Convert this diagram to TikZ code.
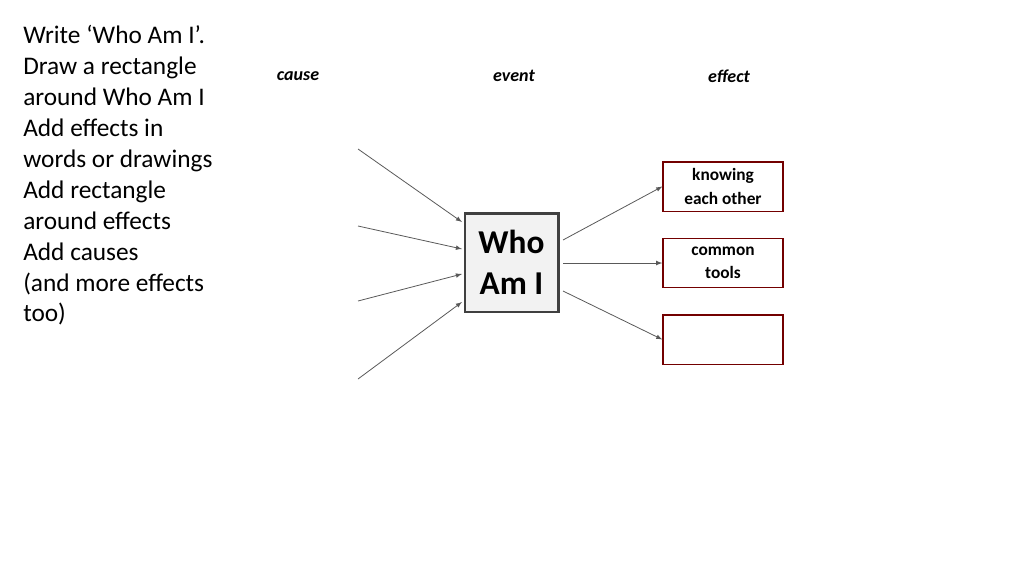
\documentclass[tikz,border=0pt]{standalone}
\usepackage{fontspec}
\setmainfont{Carlito}
\begin{document}
\begin{tikzpicture}[x=0.75pt,y=-0.75pt,
  lbl/.style={font=\fontsize{13.5pt}{15pt}\selectfont\bfseries\itshape},
  effbox/.style={draw=red!45!black,line width=1pt,minimum width=90pt,minimum height=37pt,align=center,font=\fontsize{13pt}{17.5pt}\selectfont\bfseries},
  conn/.style={draw=black!65,line width=0.6pt,-latex}]
\useasboundingbox (0,0) rectangle (1024,576);
\node[anchor=north west,align=left,inner sep=0,font=\fontsize{19pt}{23.2pt}\selectfont] (txt) at (23,25)
 {Write ‘Who Am I’.\\Draw a rectangle\\around Who Am I\\Add effects in\\words or drawings\\Add rectangle\\around effects\\Add causes\\(and more effects\\too)};
\node[lbl] (cause) at (298,76) {cause};
\node[lbl] (event) at (514,76) {event};
\node[lbl] (effect) at (729,76) {effect};
\node[draw=black!75,fill=black!5,line width=2pt,minimum width=70pt,minimum height=74pt,align=center,font=\fontsize{25pt}{31pt}\selectfont\bfseries] (who) at (511.5,262.5) {Who\\Am I};
\node[effbox] (e1) at (723,186.5) {knowing\\each other};
\node[effbox] (e2) at (723,263) {common\\tools};
\node[effbox] (e3) at (723,339.5) {};
\coordinate (c1) at (358,149);
\coordinate (c2) at (358,226);
\coordinate (c3) at (358,301);
\coordinate (c4) at (358,379);
\coordinate (w1) at (462,222);
\coordinate (w2) at (462,249);
\coordinate (w3) at (462,274);
\coordinate (w4) at (462,302);
\coordinate (r1) at (563,240);
\coordinate (r2) at (563,263);
\coordinate (r3) at (563,291);
\draw[conn] (c1) -- (w1);
\draw[conn] (c2) -- (w2);
\draw[conn] (c3) -- (w3);
\draw[conn] (c4) -- (w4);
\draw[conn] (r1) -- (e1.west);
\draw[conn] (r2) -- (e2.west);
\draw[conn] (r3) -- (e3.west);
\end{tikzpicture}
\end{document}
